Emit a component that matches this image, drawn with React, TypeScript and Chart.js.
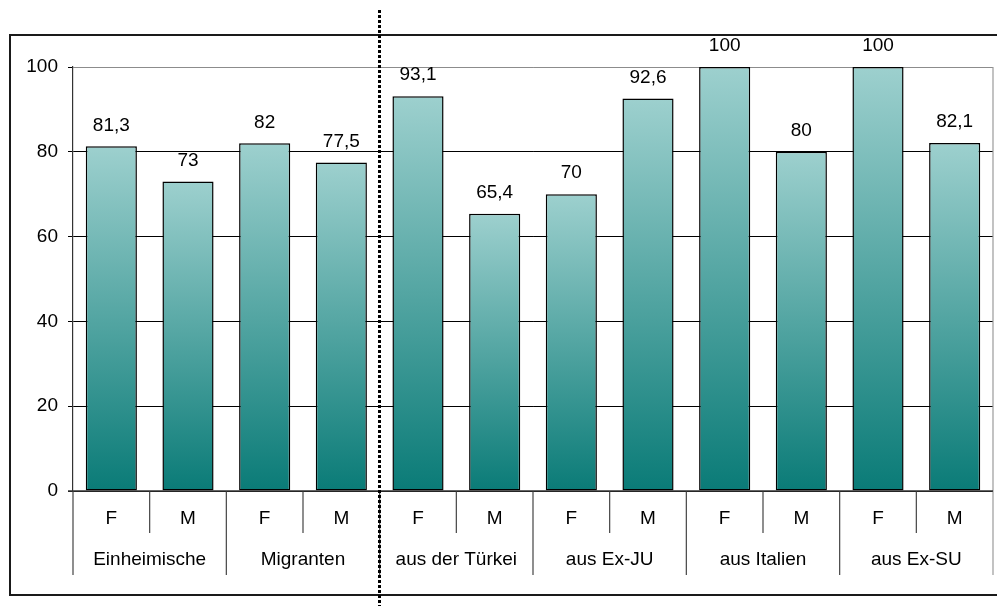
import React, { useEffect, useRef } from "react";
import { Chart, registerables } from "chart.js";

Chart.register(...registerables);

const categories = ["F", "M", "F", "M", "F", "M", "F", "M", "F", "M", "F", "M"];
const groups = ["Einheimische", "Migranten", "aus der Türkei", "aus Ex-JU", "aus Italien", "aus Ex-SU"];
const values = [81.3, 73, 82, 77.5, 93.1, 65.4, 70, 92.6, 100, 80, 100, 82.1];
const yTicks = [0, 20, 40, 60, 80, 100];

const FONT = "'Liberation Sans', Arial, sans-serif";
const FONT_SIZE = 19;

const fmt = (v: number) => String(v).replace(".", ",");

const labelsPlugin = {
  id: "labelsPlugin",
  afterDraw(chart: any) {
    const ctx = chart.ctx as CanvasRenderingContext2D;
    const { left, right, top, bottom } = chart.chartArea;
    const xs = chart.scales.x;
    const w = xs.getPixelForValue(1) - xs.getPixelForValue(0);
    const x0 = xs.getPixelForValue(0) - w / 2;
    const groupSize = categories.length / groups.length;
    ctx.save();

    // right border of plot area (gray), extended to group tick length
    ctx.strokeStyle = "#9a9a9a";
    ctx.lineWidth = 1.2;
    ctx.beginPath();
    ctx.moveTo(right, top);
    ctx.lineTo(right, bottom + 84);
    ctx.stroke();

    // category / group dividers below axis
    ctx.strokeStyle = "#444";
    ctx.lineWidth = 1.2;
    for (let i = 0; i < categories.length; i++) {
      const x = x0 + i * w;
      const len = i % groupSize === 0 ? 84 : 42;
      ctx.beginPath();
      ctx.moveTo(x, bottom);
      ctx.lineTo(x, bottom + len);
      ctx.stroke();
    }

    // x axis line
    ctx.strokeStyle = "#333";
    ctx.lineWidth = 1.5;
    ctx.beginPath();
    ctx.moveTo(left - 5, bottom);
    ctx.lineTo(right, bottom);
    ctx.stroke();

    ctx.fillStyle = "#000";
    ctx.font = `${FONT_SIZE}px ${FONT}`;
    ctx.textAlign = "center";
    ctx.textBaseline = "middle";

    // category labels
    categories.forEach((c, i) => {
      ctx.fillText(c, xs.getPixelForValue(i), bottom + 28);
    });
    // group labels
    groups.forEach((g, gi) => {
      const cx = x0 + (gi * groupSize + groupSize / 2) * w;
      ctx.fillText(g, cx, bottom + 69);
    });

    // value labels
    const meta = chart.getDatasetMeta(0);
    meta.data.forEach((el: any, i: number) => {
      ctx.fillText(fmt(values[i]), el.x, el.y - 21);
    });
    ctx.restore();
  },
};

export default function App() {
  const canvasRef = useRef<HTMLCanvasElement | null>(null);

  useEffect(() => {
    document.body.style.margin = "0";
    const canvas = canvasRef.current;
    if (!canvas) return;
    const chart = new Chart(canvas, {
      type: "bar",
      data: {
        labels: categories,
        datasets: [
          {
            data: values,
            backgroundColor: (c: any) => {
              const ch = c.chart;
              const ys = ch.scales && ch.scales.y;
              if (!ys || c.type !== "data") return "#5aa5a2";
              const t = ys.getPixelForValue(c.raw);
              const b = ys.getPixelForValue(0);
              if (!isFinite(t) || !isFinite(b) || t === b) return "#5aa5a2";
              const g = ch.ctx.createLinearGradient(0, t, 0, b);
              g.addColorStop(0, "#9dd0ce");
              g.addColorStop(1, "#0a7b77");
              return g;
            },
            borderColor: "#000",
            borderWidth: 1.5,
            borderSkipped: false,
            barPercentage: 0.667,
            categoryPercentage: 1,
          },
        ],
      },
      options: {
        animation: false,
        responsive: true,
        maintainAspectRatio: false,
        devicePixelRatio: 1,
        layout: { padding: { left: 9, top: 67, right: 4, bottom: 115 } },
        plugins: { legend: { display: false }, tooltip: { enabled: false } },
        scales: {
          x: { display: false, offset: true },
          y: {
            min: 0,
            max: 100,
            afterFit: (s: any) => {
              s.width = 64;
            },
            afterBuildTicks: (s: any) => {
              s.ticks = yTicks.map((v) => ({ value: v }));
            },
            ticks: {
              color: "#000",
              font: { size: FONT_SIZE, family: FONT },
              padding: 10,
            },
            grid: {
              color: (c: any) => (c.tick && c.tick.value === 100 ? "#8c8c8c" : "#000"),
              tickColor: "#000",
              tickLength: 5,
              lineWidth: 1,
            },
            border: { color: "#333", width: 1.2 },
          },
        },
      },
      plugins: [labelsPlugin],
    } as any);
    return () => chart.destroy();
  }, []);

  return (
    <div style={{ position: "fixed", left: 0, top: 0, width: 997, height: 606, overflow: "hidden", background: "#fff" }}>
      <div
        style={{
          position: "absolute",
          left: 9,
          top: 34,
          width: 1010,
          height: 562,
          boxSizing: "border-box",
          border: "2px solid #1a1a1a",
        }}
      />
      <div style={{ position: "absolute", left: 0, top: 0, width: 997, height: 606 }}>
        <canvas ref={canvasRef} />
      </div>
      <div
        style={{
          position: "absolute",
          left: 378,
          top: 10,
          width: 3,
          height: 596,
          background: "repeating-linear-gradient(to bottom, #000 0px, #000 3px, transparent 3px, transparent 5px)",
        }}
      />
    </div>
  );
}
